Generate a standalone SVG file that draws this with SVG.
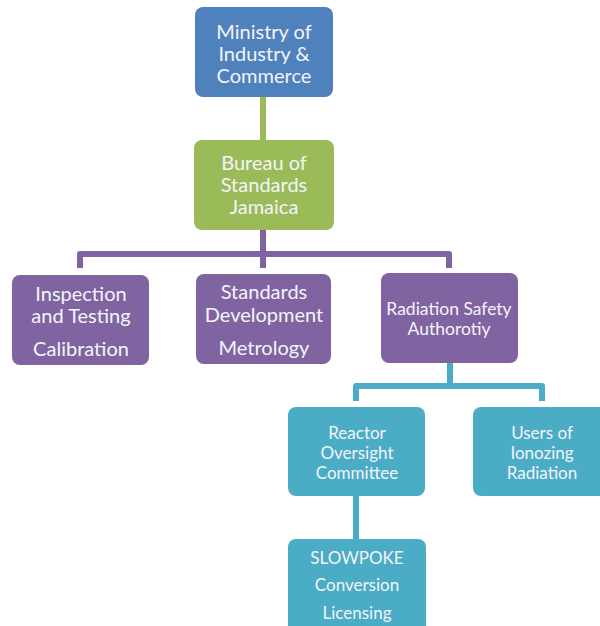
<svg xmlns="http://www.w3.org/2000/svg" width="600" height="626" viewBox="0 0 600 626">
  <style>
    .box { stroke: none; }
    .blue { fill: #4F81BD; }
    .green { fill: #9BBB59; }
    .purple { fill: #8064A2; }
    .teal { fill: #4BACC6; }
    .lbl { font-family: Lato, "Open Sans", "Liberation Sans", sans-serif; fill: #F4F4FA; text-anchor: middle; dominant-baseline: central; }
    .big { font-size: 20px; }
    .mid { font-size: 17.5px; }
    .small { font-size: 17px; }
    .c-green { stroke: #9BBB59; }
    .c-purple { stroke: #8064A2; }
    .c-teal { stroke: #4BACC6; }
    .conn path { fill: none; stroke-width: 6; stroke-linejoin: round; }
  </style>
  <rect width="600" height="626" fill="#FFFFFF"/>

  <g id="connectors" class="conn">
    <path class="c-green" d="M263,97 V140"/>
    <path class="c-purple" d="M263,230 V268 M80,268 V254 H449 V268"/>
    <path class="c-teal" d="M450,363 V386 M356,401 V386 H542 V401"/>
    <path class="c-teal" d="M356,496 V539"/>
  </g>

  <g id="ministry">
    <rect class="box blue" x="195" y="7" width="138" height="90" rx="8"/>
    <text class="lbl big" x="264" y="31">Ministry of</text>
    <text class="lbl big" x="264" y="53">Industry &amp;</text>
    <text class="lbl big" x="264" y="75">Commerce</text>
  </g>

  <g id="bureau">
    <rect class="box green" x="194" y="140" width="140" height="90" rx="8"/>
    <text class="lbl big" x="264" y="162">Bureau of</text>
    <text class="lbl big" x="264" y="184">Standards</text>
    <text class="lbl big" x="264" y="206">Jamaica</text>
  </g>

  <g id="inspection">
    <rect class="box purple" x="12" y="275" width="137" height="90" rx="8"/>
    <text class="lbl big" x="81" y="293">Inspection</text>
    <text class="lbl big" x="81" y="315">and Testing</text>
    <text class="lbl big" x="81" y="348">Calibration</text>
  </g>

  <g id="standards">
    <rect class="box purple" x="196" y="274" width="135" height="90" rx="8"/>
    <text class="lbl big" x="264" y="291">Standards</text>
    <text class="lbl big" x="264" y="314">Development</text>
    <text class="lbl big" x="264" y="347">Metrology</text>
  </g>

  <g id="radiation">
    <rect class="box purple" x="381" y="273" width="137" height="90" rx="8"/>
    <text class="lbl mid" x="449" y="308">Radiation Safety</text>
    <text class="lbl mid" x="449" y="328">Authorotiy</text>
  </g>

  <g id="reactor">
    <rect class="box teal" x="288" y="407" width="137" height="89" rx="8"/>
    <text class="lbl small" x="357" y="432">Reactor</text>
    <text class="lbl small" x="357" y="452">Oversight</text>
    <text class="lbl small" x="357" y="472">Committee</text>
  </g>

  <g id="users">
    <rect class="box teal" x="473" y="407" width="138" height="89" rx="8"/>
    <text class="lbl small" x="542" y="432">Users of</text>
    <text class="lbl small" x="542" y="452">Ionozing</text>
    <text class="lbl small" x="542" y="472">Radiation</text>
  </g>

  <g id="slowpoke">
    <rect class="box teal" x="288" y="539" width="138" height="100" rx="8"/>
    <text class="lbl small" x="357" y="557">SLOWPOKE</text>
    <text class="lbl small" x="357" y="584">Conversion</text>
    <text class="lbl small" x="357" y="612">Licensing</text>
  </g>
</svg>
